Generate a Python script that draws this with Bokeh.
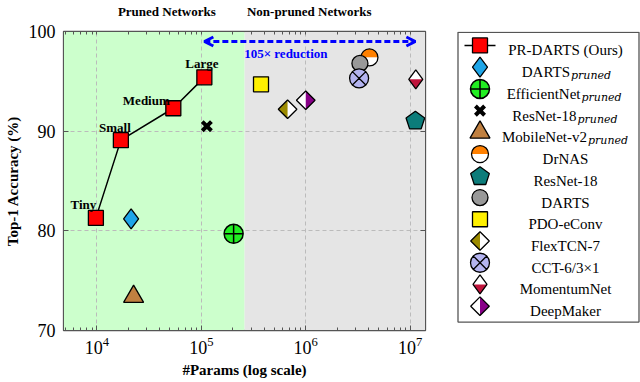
import math
from bokeh.plotting import figure
from bokeh.layouts import row
from bokeh.models import (Range1d, FixedTicker, LogAxis, LinearAxis, BoxAnnotation,
                          Arrow, OpenHead)
from bokeh.core.properties import value
from bokeh.embed import file_html
from bokeh.resources import INLINE

# ---------------- data ----------------
size_labels = ["Tiny", "Small", "Medium", "Large"]
prdarts_params = [9.8e3, 1.7e4, 5.4e4, 1.07e5]
prdarts_acc = [81.3, 89.1, 92.3, 95.4]

darts_pruned_params = [2.13e4]
darts_pruned_acc = [81.2]
efficientnet_pruned_params = [2.04e5]
efficientnet_pruned_acc = [79.7]
resnet18_pruned_params = [1.13e5]
resnet18_pruned_acc = [90.5]
mobilenet_pruned_params = [2.25e4]
mobilenet_pruned_acc = [73.4]

drnas_params = [4.07e6]
drnas_acc = [97.4]
resnet18_params = [1.12e7]
resnet18_acc = [91.1]
darts_params = [3.3e6]
darts_acc = [96.8]
pdo_params = [3.73e5]
pdo_acc = [94.7]
flextcn_params = [6.7e5]
flextcn_acc = [92.2]
cct_params = [3.24e6]
cct_acc = [95.3]
momentum_params = [1.13e7]
momentum_acc = [95.2]
deepmaker_params = [1.0e6]
deepmaker_acc = [93.1]

pruned_boundary = 2.6e5
x_ticks = [1e4, 1e5, 1e6, 1e7]
y_ticks = [70, 80, 90, 100]
header_labels = ["Pruned Networks", "Non-pruned Networks"]
header_x = [4.68e4, 1.08e6]
reduction_text = "105× reduction"

# ---------------- layout constants ----------------
X_MIN, X_MAX = 4.8e3, 1.4e7
Y_MIN, Y_MAX = 70, 100
W, H = 440, 382
BL, BR, BT, BB = 63, 15, 30, 52
FW, FH = W - BL - BR, H - BT - BB
DEC_PER_PX = (math.log10(X_MAX) - math.log10(X_MIN)) / FW
UNIT_PER_PX = (Y_MAX - Y_MIN) / FH
SERIF = "Liberation Serif"
EDGE = "#555555"


def conv_main(x, y, dx, dy):
    return 10 ** (math.log10(x) + dx * DEC_PER_PX), y + dy * UNIT_PER_PX


def conv_leg(x, y, dx, dy):
    return x + dx, y + dy


def poly(fig, conv, xs, ys, verts, **kw):
    pxs, pys = [], []
    for x, y in zip(xs, ys):
        pts = [conv(x, y, dx, dy) for dx, dy in verts]
        pxs.append([a for a, b in pts])
        pys.append([b for a, b in pts])
    fig.patches(pxs, pys, **kw)


NAR = [(0, 10), (7.5, 0), (0, -10), (-7.5, 0)]
MOM = [(0, 9.5), (7, 0), (0, -9.5), (-7, 0)]
MOM_LOW = [(-7, 0), (7, 0), (0, -9.5)]
ROT = [(0, 9.3), (9.3, 0), (0, -9.3), (-9.3, 0)]
ROT_LEFT = [(0, 9.3), (-9.3, 0), (0, -9.3)]
ROT_RIGHT = [(0, 9.3), (9.3, 0), (0, -9.3)]
PENT = [(9.8 * math.cos(math.radians(90 + 72 * k)), 9.8 * math.sin(math.radians(90 + 72 * k)) - 0.8)
        for k in range(5)]


def m_prdarts(f, c, xs, ys):
    f.scatter(xs, ys, marker="square", size=15, fill_color="#FF0000", line_color="black", line_width=1.3)


def m_darts_pruned(f, c, xs, ys):
    poly(f, c, xs, ys, NAR, fill_color="#1EA5E8", line_color="black", line_width=1.3)


def m_efficient(f, c, xs, ys):
    f.scatter(xs, ys, marker="circle_cross", size=19, fill_color="#22EE22", line_color="black", line_width=1.5)


def m_resnet_pruned(f, c, xs, ys):
    f.scatter(xs, ys, marker="x", size=13, line_color="black", line_width=4)


def m_mobilenet(f, c, xs, ys):
    f.scatter(xs, ys, marker="triangle", size=20, fill_color="#C08040", line_color="black", line_width=1.3)


def m_drnas(f, c, xs, ys):
    f.wedge(xs, ys, radius=8.5, radius_units="screen", start_angle=0, end_angle=math.pi,
            fill_color="#FF8000", line_color=None)
    f.wedge(xs, ys, radius=8.5, radius_units="screen", start_angle=math.pi, end_angle=2 * math.pi,
            fill_color="white", line_color=None)
    f.scatter(xs, ys, marker="circle", size=17, fill_color=None, line_color="black", line_width=1.3)


def m_resnet(f, c, xs, ys):
    poly(f, c, xs, ys, PENT, fill_color="#0C7C7A", line_color="black", line_width=1.3)


def m_darts(f, c, xs, ys):
    f.scatter(xs, ys, marker="circle", size=16, fill_color="#999999", line_color="black", line_width=1.3)


def m_pdo(f, c, xs, ys):
    f.scatter(xs, ys, marker="square", size=15, fill_color="#FFF000", line_color="black", line_width=1.3)


def m_flex(f, c, xs, ys):
    poly(f, c, xs, ys, ROT, fill_color="white", line_color=None)
    poly(f, c, xs, ys, ROT_LEFT, fill_color="#9C8B00", line_color=None)
    poly(f, c, xs, ys, ROT, fill_color=None, line_color="black", line_width=1.3)


def m_cct(f, c, xs, ys):
    f.scatter(xs, ys, marker="circle_x", size=19, fill_color="#B4B4F0", line_color="black", line_width=1.3)


def m_momentum(f, c, xs, ys):
    poly(f, c, xs, ys, MOM, fill_color="white", line_color=None)
    poly(f, c, xs, ys, MOM_LOW, fill_color="#C0143C", line_color=None)
    poly(f, c, xs, ys, MOM, fill_color=None, line_color="black", line_width=1.3)


def m_deepmaker(f, c, xs, ys):
    poly(f, c, xs, ys, ROT, fill_color="white", line_color=None)
    poly(f, c, xs, ys, ROT_RIGHT, fill_color="#880088", line_color=None)
    poly(f, c, xs, ys, ROT, fill_color=None, line_color="black", line_width=1.3)


# ---------------- main figure ----------------
p = figure(x_axis_type="log", x_range=Range1d(X_MIN, X_MAX), y_range=Range1d(Y_MIN, Y_MAX),
           width=W, height=H, min_border_left=BL, min_border_right=BR,
           min_border_top=BT, min_border_bottom=BB, output_backend="svg", toolbar_location=None,
           title=None, align="start")
p.background_fill_color = "white"
p.border_fill_color = "white"
p.outline_line_color = EDGE
p.outline_line_width = 1.3

minor = [m * 10 ** k for k in range(3, 7) for m in range(2, 10) if X_MIN <= m * 10 ** k <= X_MAX]
xticker = FixedTicker(ticks=x_ticks, minor_ticks=minor)
yticker = FixedTicker(ticks=y_ticks)
p.xaxis.ticker = xticker
p.yaxis.ticker = yticker

for ax in p.xaxis + p.yaxis:
    ax.axis_line_color = EDGE
    ax.major_tick_line_color = EDGE
    ax.minor_tick_line_color = EDGE
    ax.major_tick_in = 5
    ax.major_tick_out = 0
    ax.minor_tick_in = 3
    ax.minor_tick_out = 0
    ax.major_label_text_font = SERIF
    ax.major_label_text_font_size = "18px"
    ax.major_label_text_color = "black"
    ax.axis_label_text_font = SERIF
    ax.axis_label_text_font_style = "bold"
    ax.axis_label_text_font_size = "15px"
    ax.axis_label_text_color = "black"
p.yaxis.minor_tick_line_color = None
p.xaxis.axis_label = "#Params (log scale)"
p.yaxis.axis_label = "Top-1 Accuracy (%)"
p.xaxis.major_label_standoff = 6
p.yaxis.major_label_standoff = 8
p.xaxis.axis_label_standoff = 5
p.yaxis.axis_label_standoff = 5

# top axis: carries the two section headers; all log ticks drawn as small inward ticks
top_ticker = FixedTicker(ticks=header_x, minor_ticks=minor + x_ticks)
top = LogAxis(ticker=top_ticker, axis_line_color=EDGE, major_tick_line_color=None,
              minor_tick_line_color=EDGE, minor_tick_in=3, minor_tick_out=0,
              major_tick_in=0, major_tick_out=0, major_label_standoff=13,
              major_label_overrides=dict(zip(header_x, header_labels)),
              major_label_text_font=SERIF, major_label_text_font_style="bold",
              major_label_text_font_size="13px", major_label_text_color="black")
p.add_layout(top, "above")
right = LinearAxis(ticker=yticker, major_label_text_font_size="5px", major_label_text_alpha=0,
                   axis_line_color=EDGE, major_tick_line_color=EDGE, minor_tick_line_color=None,
                   major_tick_in=5, major_tick_out=0, major_label_standoff=0)
p.add_layout(right, "right")

for g in p.grid:
    g.grid_line_color = "#BBBBBB"
    g.grid_line_dash = "4 3"
    g.grid_line_width = 1
p.xgrid.ticker = xticker
p.ygrid.ticker = yticker

p.add_layout(BoxAnnotation(right=pruned_boundary, fill_color="#CCFFCC", fill_alpha=1,
                           line_color=None, level="image"))
p.add_layout(BoxAnnotation(left=pruned_boundary, fill_color="#E5E5E5", fill_alpha=1,
                           line_color=None, level="image"))

# arrow + reduction text
arrow_y = 99.0
p.add_layout(Arrow(x_start=prdarts_params[-1], y_start=arrow_y, x_end=resnet18_params[0], y_end=arrow_y,
                   line_color="#0000FF", line_width=3, line_dash="6 3",
                   start=OpenHead(size=9, line_color="#0000FF", line_width=3),
                   end=OpenHead(size=9, line_color="#0000FF", line_width=3)))
mid_x = 10 ** ((math.log10(prdarts_params[-1]) + math.log10(resnet18_params[0])) / 2)
p.text([mid_x], [97.75], text=[reduction_text], x_offset=-24, text_align="center",
       text_baseline="alphabetic", text_font=value(SERIF), text_font_style="bold",
       text_font_size="13px", text_color="#0000FF")

# series
p.line(prdarts_params, prdarts_acc, line_color="black", line_width=1.5)
m_prdarts(p, conv_main, prdarts_params, prdarts_acc)
m_darts_pruned(p, conv_main, darts_pruned_params, darts_pruned_acc)
m_efficient(p, conv_main, efficientnet_pruned_params, efficientnet_pruned_acc)
m_resnet_pruned(p, conv_main, resnet18_pruned_params, resnet18_pruned_acc)
m_mobilenet(p, conv_main, mobilenet_pruned_params, mobilenet_pruned_acc)
m_drnas(p, conv_main, drnas_params, drnas_acc)
m_resnet(p, conv_main, resnet18_params, resnet18_acc)
m_darts(p, conv_main, darts_params, darts_acc)
m_pdo(p, conv_main, pdo_params, pdo_acc)
m_flex(p, conv_main, flextcn_params, flextcn_acc)
m_cct(p, conv_main, cct_params, cct_acc)
m_momentum(p, conv_main, momentum_params, momentum_acc)
m_deepmaker(p, conv_main, deepmaker_params, deepmaker_acc)

label_dx = [-12.5, -6, -27, -2.5]
label_dy = [-13.5, -12.7, -8.2, -13.5]
p.text(prdarts_params, prdarts_acc, text=size_labels, x_offset=label_dx, y_offset=label_dy,
       text_align="center", text_baseline="alphabetic", text_font=value(SERIF),
       text_font_style="bold", text_font_size="13px", text_color="black")

# ---------------- legend figure ----------------
# Bokeh aligns the frames of plots in a row, so the legend frame spans the same
# vertical band as the main frame; its y range is set so one unit = one pixel.
LW, LH = 200, H
lg = figure(width=LW, height=LH, x_range=Range1d(0, LW), y_range=Range1d(H - BT - FH, H - BT),
            x_axis_location=None, y_axis_location=None, min_border=0,
            min_border_left=0, min_border_right=0,
            output_backend="svg", toolbar_location=None, title=None, align="start")
lg.grid.visible = False
lg.outline_line_color = None
lg.background_fill_color = "white"
lg.border_fill_color = "white"

PAGE_X0, PAGE_Y_BOTTOM = W, H


def fx(px):
    return px - PAGE_X0


def fy(py):
    return PAGE_Y_BOTTOM - py


lg.quad(left=[fx(457.5)], right=[fx(638.5)], bottom=[fy(321.5)], top=[fy(30.8)],
        fill_color="white", line_color=EDGE, line_width=1.3)

entries = [
    ("PR-DARTS (Ours)", None, m_prdarts, None),
    ("DARTS", "pruned", m_darts_pruned, 569.5),
    ("EfficientNet", "pruned", m_efficient, 580),
    ("ResNet-18", "pruned", m_resnet_pruned, 576),
    ("MobileNet-v2", "pruned", m_mobilenet, 586.5),
    ("DrNAS", None, m_drnas, None),
    ("ResNet-18", None, m_resnet, None),
    ("DARTS", None, m_darts, None),
    ("PDO-eConv", None, m_pdo, None),
    ("FlexTCN-7", None, m_flex, None),
    ("CCT-6/3×1", None, m_cct, None),
    ("MomentumNet", None, m_momentum, None),
    ("DeepMaker", None, m_deepmaker, None),
]
MK_X = fx(479.5)
TXT_X = fx(565)
for i, (name, sub, drawer, split) in enumerate(entries):
    yy = fy(44 + 21.8 * i)
    if i == 0:
        lg.line([MK_X - 15.5, MK_X + 15.5], [yy, yy], line_color="black", line_width=1.5)
    drawer(lg, conv_leg, [MK_X], [yy])
    if sub is None:
        lg.text([TXT_X], [yy - 5], text=[name], text_align="center", text_baseline="alphabetic",
                text_font=value(SERIF), text_font_size="15px", text_color="black")
    else:
        lg.text([fx(split)], [yy - 5], text=[name], text_align="right", text_baseline="alphabetic",
                text_font=value(SERIF), text_font_size="15px", text_color="black")
        lg.text([fx(split) + 1], [yy - 8.5], text=[sub], text_align="left", text_baseline="alphabetic",
                text_font=value("DejaVu Serif"), text_font_style="italic", text_font_size="11px",
                text_color="black")

layout = row(p, lg)
open("out.html", "w").write(file_html(layout, INLINE))
